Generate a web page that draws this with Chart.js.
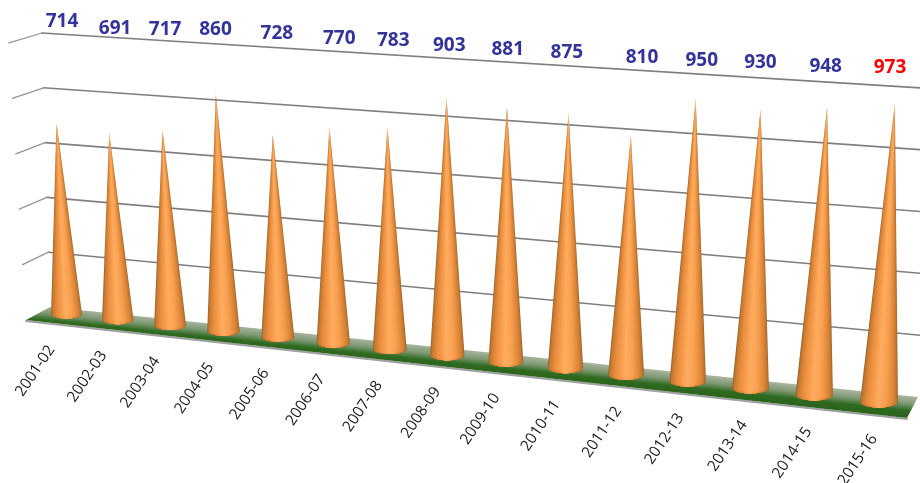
<!DOCTYPE html>
<html>
<head>
<meta charset="utf-8">
<style>
  html, body { margin: 0; background: #fff; }
  canvas { display: block; filter: blur(0.45px); }
</style>
<script src="https://cdn.jsdelivr.net/npm/chart.js@4/dist/chart.umd.min.js"></script>
</head>
<body>
<canvas id="chart" width="920" height="483"></canvas>
<script>
const years = ["2001-02", "2002-03", "2003-04", "2004-05", "2005-06", "2006-07", "2007-08", "2008-09",
  "2009-10", "2010-11", "2011-12", "2012-13", "2013-14", "2014-15", "2015-16"]
const totals = [714, 691, 717, 860, 728, 770, 783, 903, 881, 875, 810, 950, 930, 948, 973]

// the value labels were placed by hand in the original, so they sit a little off the cones
const labelShiftX = [-4.5, -2.7, -5, -8, -1, 6, 3.5, 2, 2, 1.5, 16, 14, 10, 11.5, 11]
const labelShiftY = [-12.3, -8.7, -10.8, -14.1, -14, -13, -14.4, -13, -12.7, -13.4, -13.2, -14, -15.8, -16, -20]

const coneStops = [
  [0, "#96642f"], [0.06, "#c67a31"], [0.2, "#ea8d3c"], [0.48, "#ffac5e"],
  [0.68, "#f89f50"], [0.88, "#dc8435"], [0.96, "#bb7630"], [1, "#96642f"]
]

// where the chart's x position lands once the 3D view is applied
const bend = 102
const floorSlope = 0.1095
const vanishX = 470

function coneGeometry(chart, i) {
  const bars = chart.getDatasetMeta(0).data
  const bar = bars[i]
  const u = i / (bars.length - 1)
  const x = bar.x + bend * (u * u - u)
  const fromFirst = x - bars[0].x
  const hw = bar.width / 2 * (0.89 + 0.2 * u)
  const ry = hw * 0.3
  const bottom = bar.base + 12 + floorSlope * fromFirst
  const cy = bottom - ry
  const h = (bar.base - bar.y) * (0.978 + 0.000175 * fromFirst)
  return { x, u, hw, ry, cy, tipX: x + 0.00013 * (x - vanishX) * h, tipY: cy - h, bottom }
}

function drawCone(ctx, c) {
  const last = Math.ceil(c.cy + c.ry)
  for (let y = Math.floor(c.tipY); y < last; y++) {
    const mid = y + 0.5
    let half, cx
    if (mid <= c.cy) {
      const t = Math.max(0, (mid - c.tipY) / (c.cy - c.tipY))
      half = c.hw * t
      cx = c.tipX + (c.x - c.tipX) * t
    } else {
      const d = (mid - c.cy) / c.ry
      half = c.hw * Math.sqrt(Math.max(0, 1 - d * d))
      cx = c.x
    }
    if (half <= 0) continue
    const g = ctx.createLinearGradient(cx - half, 0, cx + half, 0)
    coneStops.forEach(s => g.addColorStop(s[0], s[1]))
    ctx.fillStyle = g
    ctx.fillRect(cx - half, y, half * 2, 1)
  }
}

const scene = {
  id: "scene",
  // back walls and floor go behind the cones
  beforeDatasetsDraw(chart) {
    const ctx = chart.ctx
    const yScale = chart.scales.y
    const base = yScale.getPixelForValue(0)
    const left = chart.chartArea.left
    ctx.save()
    ctx.lineCap = "round"
    yScale.ticks.forEach(tick => {
      if (tick.value === 0) return
      const py = yScale.getPixelForValue(tick.value)
      const lift = base - py
      const f = tick.value / yScale.max
      const backX = left + 12.5 - 8 * f
      ctx.strokeStyle = "#7f7f7f"
      ctx.lineWidth = 1.6
      ctx.beginPath()
      ctx.moveTo(backX, py)
      ctx.lineTo(left + 880.5 + 20 * f, base + 90 - lift * 1.124)
      ctx.stroke()
      ctx.strokeStyle = "#949494"
      ctx.lineWidth = 1.3
      ctx.beginPath()
      ctx.moveTo(left - 11.5 - 17 * f, base + 13 - lift * 1.011)
      ctx.lineTo(backX, py)
      ctx.stroke()
    })

    // shadow along the front edge of the floor
    ctx.strokeStyle = "#a0a0a0"
    ctx.lineWidth = 2
    ctx.beginPath()
    ctx.moveTo(left - 11.5, base + 14)
    ctx.lineTo(left + 869.5, base + 112)
    ctx.stroke()

    // floor, gradient runs across its depth
    const skew = 0.105
    ctx.transform(1, skew, 0, 1, 0, 0)
    const g = ctx.createLinearGradient(0, base - 6, 0, base + 13)
    g.addColorStop(0, "#a9b59e")
    g.addColorStop(0.4, "#7d9873")
    g.addColorStop(0.75, "#2f6a20")
    g.addColorStop(1, "#2c651e")
    ctx.fillStyle = g
    const corner = (x, y) => [left + x, base + y - skew * (left + x)]
    ctx.beginPath()
    ctx.moveTo(...corner(12.5, 0))
    ctx.lineTo(...corner(880.5, 90))
    ctx.lineTo(...corner(869.5, 111))
    ctx.lineTo(...corner(-11.5, 13))
    ctx.closePath()
    ctx.fill()
    ctx.restore()
  },
  afterDatasetsDraw(chart) {
    const ctx = chart.ctx
    const yScale = chart.scales.y
    const top = yScale.getPixelForValue(yScale.max)
    const left = chart.chartArea.left
    const topLine = x => top + 0.0638 * (x - (left + 4.5))
    ctx.save()
    years.forEach((year, i) => {
      const c = coneGeometry(chart, i)
      drawCone(ctx, c)

      // value above the cone
      const lx = c.x + labelShiftX[i]
      ctx.font = "700 19px 'Open Sans'"
      ctx.textAlign = "center"
      ctx.textBaseline = "middle"
      ctx.fillStyle = i === totals.length - 1 ? "#ff0000" : "#333399"
      ctx.fillText(totals[i], lx, topLine(lx) + labelShiftY[i])

      // category under the floor
      ctx.save()
      ctx.translate(c.x - 15 + 10 * c.u, c.bottom + 28)
      ctx.rotate(-56 * Math.PI / 180)
      ctx.font = "15.4px 'Open Sans'"
      ctx.textAlign = "right"
      ctx.textBaseline = "middle"
      ctx.fillStyle = "#1c1c1c"
      ctx.fillText(year, 0, 0)
      ctx.restore()
    })
    ctx.restore()
  }
}

new Chart(document.getElementById("chart"), {
  type: "bar",
  data: {
    labels: years,
    datasets: [{
      data: totals,
      backgroundColor: "transparent",
      borderWidth: 0,
      barPercentage: 0.6,
      categoryPercentage: 1
    }]
  },
  options: {
    responsive: false,
    animation: false,
    layout: { padding: { left: 37.5, right: 12, top: 33, bottom: 176 } },
    plugins: { legend: { display: false }, tooltip: { enabled: false } },
    scales: {
      x: { display: false },
      y: { display: false, min: 0, max: 1000, ticks: { stepSize: 200 } }
    }
  },
  plugins: [scene]
})
</script>
</body>
</html>
